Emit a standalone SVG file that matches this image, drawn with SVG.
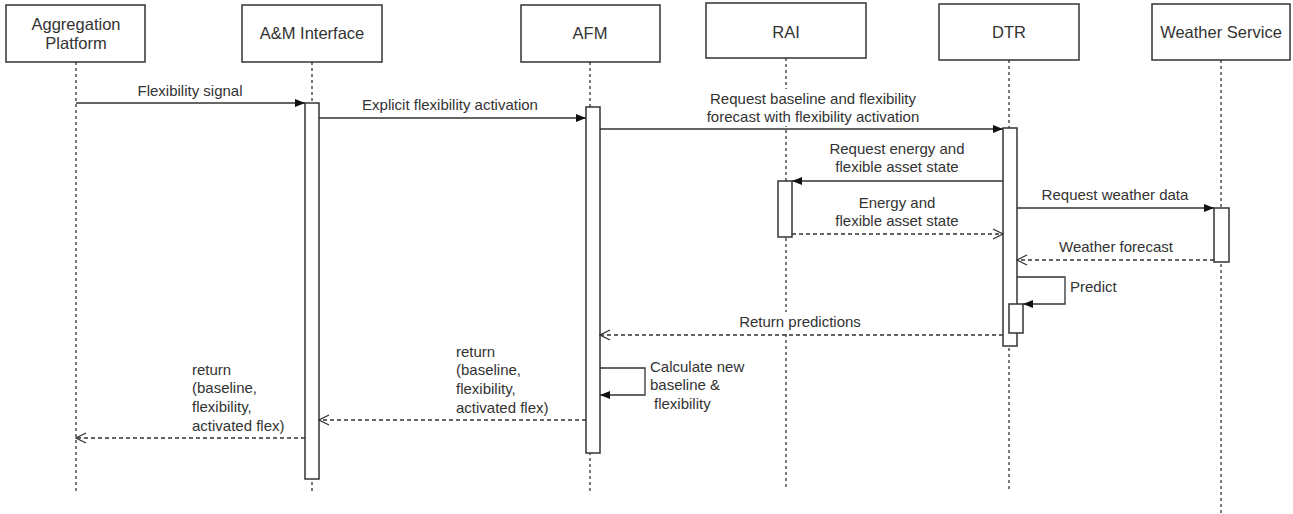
<svg xmlns="http://www.w3.org/2000/svg" width="1293" height="514" viewBox="0 0 1293 514">
<style>
  .hdr { fill: #fff; stroke: #333; stroke-width: 1.5; }
  .htxt { font-family: "Liberation Sans", Arial, sans-serif; font-size: 16.5px; fill: #333; text-anchor: middle; }
  .life { stroke: #333; stroke-width: 1.3; stroke-dasharray: 3 3; fill: none; }
  .act { fill: #fff; stroke: #333; stroke-width: 1.5; }
  .msg { stroke: #333; stroke-width: 1.3; fill: none; }
  .ret { stroke: #333; stroke-width: 1.3; fill: none; stroke-dasharray: 4 3; }
  .mtxt { font-family: "Liberation Sans", Arial, sans-serif; font-size: 15px; fill: #333; }
  .c { text-anchor: middle; }
  .lblbg { fill: #fff; stroke: none; }
</style>
<defs>
  <marker id="filled" viewBox="0 0 10 8" refX="10" refY="4" markerWidth="10" markerHeight="8" markerUnits="userSpaceOnUse" orient="auto">
    <path d="M0,0 L10,4 L0,8 z" fill="#111"/>
  </marker>
  <marker id="open" viewBox="0 0 12 12" refX="11" refY="6" markerWidth="12" markerHeight="12" markerUnits="userSpaceOnUse" orient="auto">
    <path d="M1,1 L11,6 L1,11" fill="none" stroke="#333" stroke-width="1.3"/>
  </marker>
</defs>
<rect width="1293" height="514" fill="#fff"/>

<g id="lifelines">
  <line class="life" x1="76" y1="62" x2="76" y2="492"/>
  <line class="life" x1="312" y1="62" x2="312" y2="492"/>
  <line class="life" x1="590" y1="62" x2="590" y2="492"/>
  <line class="life" x1="786" y1="58" x2="786" y2="488"/>
  <line class="life" x1="1009" y1="60" x2="1009" y2="490"/>
  <line class="life" x1="1221" y1="60" x2="1221" y2="514"/>
</g>

<g id="aggregation-platform">
  <rect class="hdr" x="6" y="5" width="139" height="57"/>
  <text class="htxt" x="76" y="30">Aggregation</text>
  <text class="htxt" x="76" y="49">Platform</text>
</g>
<g id="am-interface">
  <rect class="hdr" x="242" y="5" width="140" height="57"/>
  <text class="htxt" x="312" y="39">A&amp;M Interface</text>
  <rect class="act" x="305" y="103" width="14" height="376"/>
</g>
<g id="afm">
  <rect class="hdr" x="521" y="5" width="139" height="57"/>
  <text class="htxt" x="590" y="39">AFM</text>
  <rect class="act" x="586" y="107" width="14" height="346"/>
</g>
<g id="rai">
  <rect class="hdr" x="706" y="3" width="160" height="55"/>
  <text class="htxt" x="786" y="38">RAI</text>
  <rect class="act" x="778" y="181" width="14" height="56"/>
</g>
<g id="dtr">
  <rect class="hdr" x="939" y="4" width="140" height="56"/>
  <text class="htxt" x="1009" y="38">DTR</text>
  <rect class="act" x="1003" y="128" width="14" height="218"/>
  <rect class="act" x="1009" y="304" width="14" height="29"/>
</g>
<g id="weather-service">
  <rect class="hdr" x="1152" y="4" width="138" height="56"/>
  <text class="htxt" x="1221" y="38">Weather Service</text>
  <rect class="act" x="1214" y="208" width="15" height="54"/>
</g>

<g id="connectors">
  <line class="msg" x1="76" y1="103" x2="305" y2="103" marker-end="url(#filled)"/>
  <text class="mtxt c" x="190" y="96">Flexibility signal</text>

  <line class="msg" x1="319" y1="118" x2="586" y2="118" marker-end="url(#filled)"/>
  <text class="mtxt c" x="450" y="110">Explicit flexibility activation</text>

  <line class="msg" x1="600" y1="129" x2="1003" y2="129" marker-end="url(#filled)"/>
  <rect class="lblbg" x="706" y="89" width="214" height="37"/>
  <text class="mtxt c" x="813" y="104">Request baseline and flexibility</text>
  <text class="mtxt c" x="813" y="122">forecast with flexibility activation</text>

  <line class="msg" x1="1003" y1="181" x2="792" y2="181" marker-end="url(#filled)"/>
  <text class="mtxt c" x="897" y="154">Request energy and</text>
  <text class="mtxt c" x="897" y="172">flexible asset state</text>

  <line class="ret" x1="792" y1="234" x2="1003" y2="234" marker-end="url(#open)"/>
  <text class="mtxt c" x="897" y="208">Energy and</text>
  <text class="mtxt c" x="897" y="226">flexible asset state</text>

  <line class="msg" x1="1017" y1="208" x2="1214" y2="208" marker-end="url(#filled)"/>
  <text class="mtxt c" x="1115" y="200">Request weather data</text>

  <line class="ret" x1="1214" y1="260" x2="1017" y2="260" marker-end="url(#open)"/>
  <text class="mtxt c" x="1116" y="252">Weather forecast</text>

  <path class="msg" d="M1017,277 H1065 V304 H1023" marker-end="url(#filled)"/>
  <text class="mtxt" x="1070" y="292">Predict</text>

  <line class="ret" x1="1003" y1="335" x2="600" y2="335" marker-end="url(#open)"/>
  <rect class="lblbg" x="736" y="312" width="128" height="20"/>
  <text class="mtxt c" x="800" y="327">Return predictions</text>

  <path class="msg" d="M600,368 H645 V395 H600" marker-end="url(#filled)"/>
  <text class="mtxt" x="650" y="372">Calculate new</text>
  <text class="mtxt" x="650" y="390">baseline &amp;</text>
  <text class="mtxt" x="654" y="409">flexibility</text>

  <line class="ret" x1="586" y1="420" x2="319" y2="420" marker-end="url(#open)"/>
  <text class="mtxt" x="456" y="357">return</text>
  <text class="mtxt" x="456" y="375">(baseline,</text>
  <text class="mtxt" x="456" y="394">flexibility,</text>
  <text class="mtxt" x="456" y="413">activated flex)</text>

  <line class="ret" x1="305" y1="438" x2="76" y2="438" marker-end="url(#open)"/>
  <text class="mtxt" x="192" y="375">return</text>
  <text class="mtxt" x="192" y="393">(baseline,</text>
  <text class="mtxt" x="192" y="412">flexibility,</text>
  <text class="mtxt" x="192" y="431">activated flex)</text>
</g>
</svg>
